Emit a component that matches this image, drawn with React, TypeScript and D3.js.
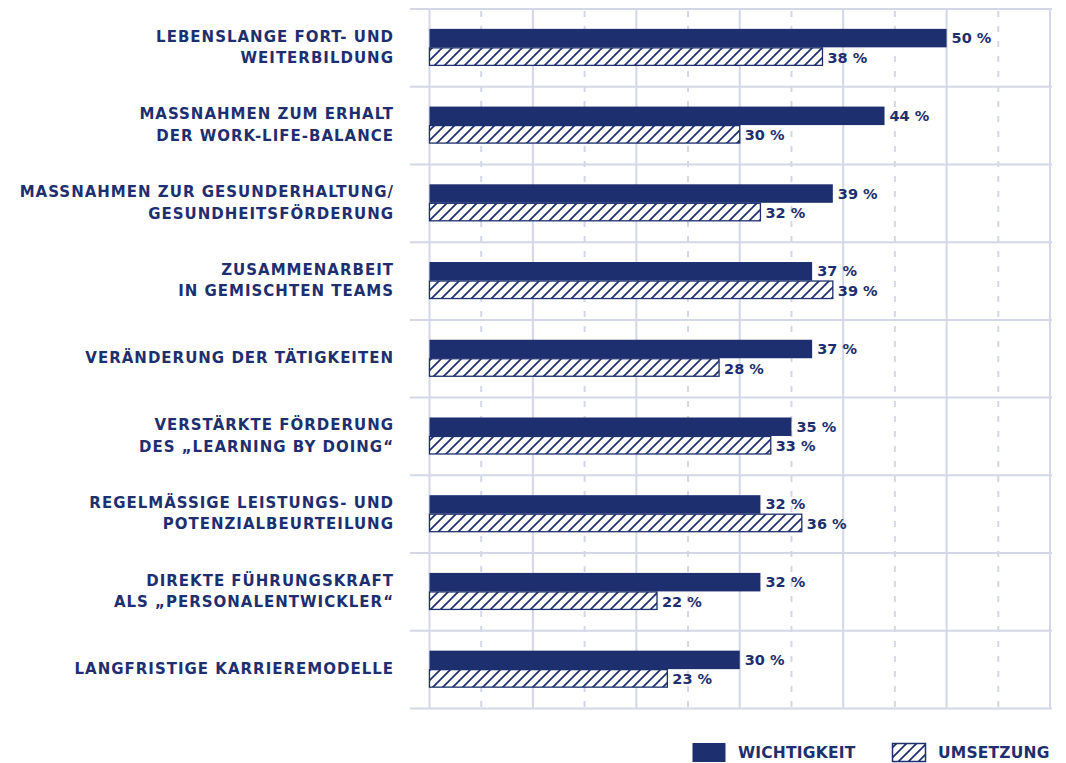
import React from "react";
import * as d3 from "d3";

const categories: string[][] = [
  ["LEBENSLANGE FORT- UND", "WEITERBILDUNG"],
  ["MASSNAHMEN ZUM ERHALT", "DER WORK-LIFE-BALANCE"],
  ["MASSNAHMEN ZUR GESUNDERHALTUNG/", "GESUNDHEITSFÖRDERUNG"],
  ["ZUSAMMENARBEIT", "IN GEMISCHTEN TEAMS"],
  ["VERÄNDERUNG DER TÄTIGKEITEN"],
  ["VERSTÄRKTE FÖRDERUNG", "DES „LEARNING BY DOING“"],
  ["REGELMÄSSIGE LEISTUNGS- UND", "POTENZIALBEURTEILUNG"],
  ["DIREKTE FÜHRUNGSKRAFT", "ALS „PERSONALENTWICKLER“"],
  ["LANGFRISTIGE KARRIEREMODELLE"],
];
const wichtigkeit = [50, 44, 39, 37, 37, 35, 32, 32, 30];
const umsetzung = [38, 30, 32, 39, 28, 33, 36, 22, 23];
const solidTicks = [0, 10, 20, 30, 40, 50, 60];
const dashedTicks = [5, 15, 25, 35, 45, 55];
const legendLabels = ["WICHTIGKEIT", "UMSETZUNG"];

const NAVY = "#1d2f6f";
const GRID = "#d4d8e6";
const FONT = "'DejaVu Sans', sans-serif";

export default function App() {
  const W = 1066;
  const H = 763;
  const x = d3.scaleLinear().domain([0, 60]).range([429.5, 1050]);
  const top = 9;
  const bottom = 708.5;
  const y = d3
    .scaleBand<number>()
    .domain(d3.range(categories.length))
    .range([top, bottom]);
  const barH = 18.5;

  return (
    <svg
      width={W}
      height={H}
      style={{ position: "absolute", left: 0, top: 0, background: "#fff" }}
      fontFamily={FONT}
    >
      <defs>
        <pattern
          id="hatch"
          patternUnits="userSpaceOnUse"
          width={10}
          height={10}
        >
          <rect width={10} height={10} fill="#fff" />
          <path
            d="M-2,2 L2,-2 M0,10 L10,0 M8,12 L12,8"
            stroke={NAVY}
            strokeWidth={1.7}
          />
        </pattern>
      </defs>

      {/* horizontal separators */}
      {d3.range(categories.length + 1).map((i) => {
        const yy = i === categories.length ? bottom : (y(i) as number);
        return (
          <line
            key={"h" + i}
            x1={410}
            x2={1052}
            y1={yy}
            y2={yy}
            stroke={GRID}
            strokeWidth={2}
          />
        );
      })}

      {/* vertical gridlines */}
      {solidTicks.map((t) => (
        <line
          key={"s" + t}
          x1={x(t)}
          x2={x(t)}
          y1={top}
          y2={bottom}
          stroke={GRID}
          strokeWidth={2}
        />
      ))}
      {dashedTicks.map((t) => (
        <line
          key={"d" + t}
          x1={x(t)}
          x2={x(t)}
          y1={top}
          y2={bottom}
          stroke={GRID}
          strokeWidth={2}
          strokeDasharray="6 9"
          strokeDashoffset={-2}
        />
      ))}

      {categories.map((lines, i) => {
        const c = (y(i) as number) + y.bandwidth() / 2 - 0.5;
        const y1 = c - barH;
        const y2 = c;
        const lh = 21.5;
        const startY = c - ((lines.length - 1) * lh) / 2;
        return (
          <g key={"c" + i}>
            <text
              textAnchor="end"
              fill={NAVY}
              fontSize={15}
              fontWeight={700}
              letterSpacing={1}
            >
              {lines.map((l, j) => (
                <tspan
                  key={j}
                  x={394}
                  y={startY + j * lh}
                  dominantBaseline="central"
                >
                  {l}
                </tspan>
              ))}
            </text>
            <rect
              x={x(0)}
              y={y1}
              width={x(wichtigkeit[i]) - x(0)}
              height={barH}
              fill={NAVY}
            />
            <rect
              x={x(0)}
              y={y2 + 0.5}
              width={x(umsetzung[i]) - x(0)}
              height={barH - 1}
              fill="url(#hatch)"
              stroke={NAVY}
              strokeWidth={1.3}
            />
            <text
              x={x(wichtigkeit[i]) + 5}
              y={y1 + barH / 2}
              dominantBaseline="central"
              fill={NAVY}
              fontSize={14.5}
              fontWeight={600}
            >
              {wichtigkeit[i]} %
            </text>
            <text
              x={x(umsetzung[i]) + 5}
              y={y2 + barH / 2 + 1}
              dominantBaseline="central"
              fill={NAVY}
              fontSize={14.5}
              fontWeight={600}
            >
              {umsetzung[i]} %
            </text>
          </g>
        );
      })}

      {/* legend */}
      <rect x={692.5} y={743} width={33} height={19} fill={NAVY} />
      <text
        x={738}
        y={753}
        dominantBaseline="central"
        fill={NAVY}
        fontSize={15.5}
        fontWeight={600}
        letterSpacing={0.2}
      >
        {legendLabels[0]}
      </text>
      <rect
        x={892.5}
        y={743.5}
        width={33}
        height={18}
        fill="url(#hatch)"
        stroke={NAVY}
        strokeWidth={1.5}
      />
      <text
        x={938}
        y={753}
        dominantBaseline="central"
        fill={NAVY}
        fontSize={15.5}
        fontWeight={600}
        letterSpacing={0.2}
      >
        {legendLabels[1]}
      </text>
    </svg>
  );
}
